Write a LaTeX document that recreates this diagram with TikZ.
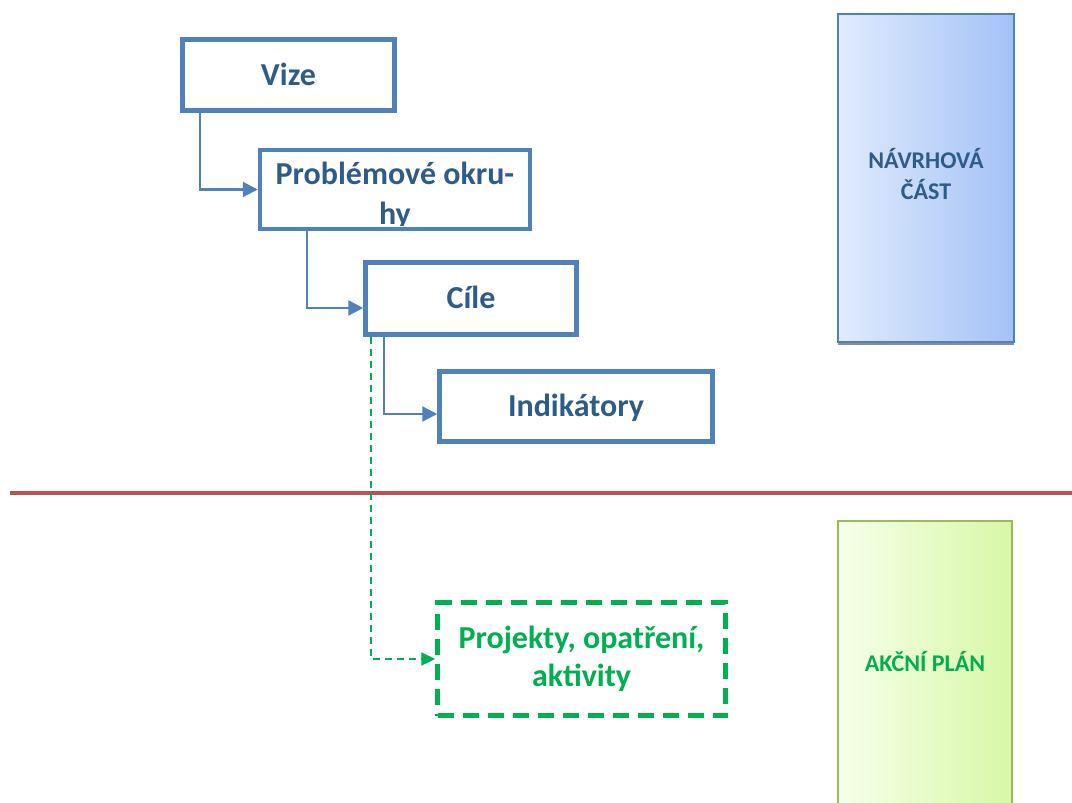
\documentclass[tikz,border=0pt]{standalone}
\usepackage{fontspec}
\setmainfont{Carlito}
\usetikzlibrary{positioning, arrows.meta, calc, shadows}
\definecolor{boxblue}{HTML}{4F81BD}
\definecolor{textblue}{HTML}{2E5C8A}
\definecolor{actgreen}{HTML}{00B050}
\definecolor{linered}{HTML}{C0504D}
\definecolor{olivegreen}{HTML}{9BBB59}
\definecolor{blueleft}{HTML}{E0EBFD}
\definecolor{blueright}{HTML}{A4C2F6}
\definecolor{greenleft}{HTML}{F6FFEA}
\definecolor{greenright}{HTML}{D8F8A6}

\begin{document}
\begin{tikzpicture}[
      x=1pt, y=-1pt,
      block/.style={rectangle, draw=boxblue, line width=4.5pt, fill=white, inner sep=0pt},
      blocktext/.style={font=\fontsize{32}{37}\selectfont\bfseries, text=textblue, align=center, inner sep=0pt},
      onerow/.style={text height=20pt, text depth=0pt},
      greenblock/.style={rectangle, draw=actgreen, line width=4.5pt, dash pattern=on 16pt off 9pt, fill=white, inner sep=0pt,
        font=\fontsize{32}{38}\selectfont\bfseries, text=actgreen, align=center},
      sidebox/.style={rectangle, line width=1.5pt, inner sep=0pt, align=center, font=\fontsize{24}{31}\selectfont\bfseries},
      arrow/.style={-{Triangle[length=15pt, width=15pt]}, draw=boxblue, line width=2.2pt},
      greenarrow/.style={-{Triangle[length=14pt, width=13pt]}, draw=actgreen, line width=2pt, dash pattern=on 7pt off 5pt}
    ]
      \useasboundingbox (0,0) rectangle (1072,803);
      \clip (0,0) rectangle (1072,803);

      % Boxes
      \node[block, blocktext, onerow, minimum width=212pt, minimum height=71pt] (vize) at (288.5,75) {Vize};
      \begin{scope}
        \clip (260,150) rectangle (530,225);
        \node[blocktext, font=\fontsize{32}{40}\selectfont\bfseries] (probltext) at (395,195.5) {Problémové okru-\\hy};
      \end{scope}
      \node[block, fill=none, minimum width=270pt, minimum height=79pt] (probl) at (395,189.5) {};
      \node[block, blocktext, onerow, minimum width=211pt, minimum height=72pt] (cile) at (471,298.5) {Cíle};
      \node[block, blocktext, onerow, minimum width=273pt, minimum height=70pt] (indik) at (576,406.5) {Indikátory};
      \node[greenblock, minimum width=288pt, minimum height=113pt] (proj) at (581.5,659) {Projekty, opatření,\\aktivity};

      % Side parts
      \node[sidebox, draw=boxblue, left color=blueleft, right color=blueright,
        minimum width=176pt, minimum height=328pt,
        drop shadow={shadow xshift=0pt, shadow yshift=-3pt, fill=black!45, opacity=1}] (navrh) at (926,178) {};
      \node[sidebox, text=textblue] (navrhtext) at (926,174) {NÁVRHOVÁ\\ČÁST};
      \node[sidebox, draw=olivegreen, left color=greenleft, right color=greenright,
        minimum width=174pt, minimum height=320pt] (akce) at (925,681) {};
      \node[sidebox, text=actgreen] (akcetext) at (925,661) {AKČNÍ PLÁN};

      % Dividing line
      \draw[linered, line width=4pt] (10,492.5) -- (1072,492.5);

      % Arrows
      \draw[arrow] ($(vize.south west)+(19.5,0)$) |- (probl.west);
      \draw[arrow] ($(probl.south west)+(49,0)$) |- ($(cile.west)+(0,9.5)$);
      \draw[arrow] ($(cile.south west)+(20.5,0)$) |- ($(indik.west)+(0,7.5)$);
      \draw[greenarrow] ($(cile.south west)+(7.5,0)$) |- (proj.west);

    \end{tikzpicture}
\end{document}
